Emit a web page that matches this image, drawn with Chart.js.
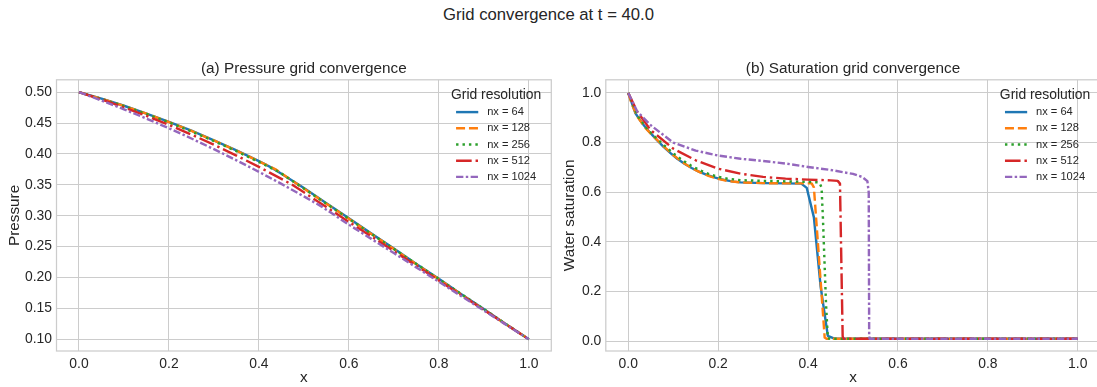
<!DOCTYPE html>
<html><head><meta charset="utf-8">
<script src="https://cdn.jsdelivr.net/npm/chart.js@4.4.1/dist/chart.umd.min.js"></script>
<style>
html,body{margin:0;padding:0;background:#fff;width:1097px;height:387px;overflow:hidden;}
#wrap{position:relative;width:1097px;height:387px;overflow:hidden;background:#fff;}
#sup{position:absolute;left:0;top:5px;width:1097px;text-align:center;font:16.7px 'Liberation Sans',Arial,sans-serif;color:#262626;line-height:20px;}
canvas{position:absolute;top:0;}
</style></head><body>
<div id="wrap">
<div id="sup">Grid convergence at t = 40.0</div>
<canvas id="c1" width="560" height="387" style="left:0px"></canvas>
<canvas id="c2" width="545" height="387" style="left:560px"></canvas>
</div>
<script>
// ---------- data ----------
const seriesLabels = ['nx = 64', 'nx = 128', 'nx = 256', 'nx = 512', 'nx = 1024'];
const legendTitle = 'Grid resolution';
const pressureTitle = '(a) Pressure grid convergence';
const saturationTitle = '(b) Saturation grid convergence';

const xTickValues = [0.0, 0.2, 0.4, 0.6, 0.8, 1.0];
const xTickLabels = ['0.0', '0.2', '0.4', '0.6', '0.8', '1.0'];
const pressureTickValues = [0.10, 0.15, 0.20, 0.25, 0.30, 0.35, 0.40, 0.45, 0.50];
const pressureTickLabels = ['0.10', '0.15', '0.20', '0.25', '0.30', '0.35', '0.40', '0.45', '0.50'];
const saturationTickValues = [0.0, 0.2, 0.4, 0.6, 0.8, 1.0];
const saturationTickLabels = ['0.0', '0.2', '0.4', '0.6', '0.8', '1.0'];

const pressureX64 = [0.00, 0.05, 0.10, 0.15, 0.20, 0.25, 0.30, 0.35, 0.40, 0.43, 0.45, 0.50,
                     0.55, 0.60, 0.65, 0.70, 0.75, 0.80, 0.85, 0.90, 0.95, 1.00];
const pressure64   = [0.500, 0.4895, 0.478, 0.4654, 0.452, 0.4376, 0.4221, 0.4058, 0.3885, 0.377, 0.368, 0.345,
                      0.320, 0.296, 0.271, 0.247, 0.222, 0.198, 0.173, 0.149, 0.124, 0.100];
const pressureX128 = [0.00, 0.05, 0.10, 0.15, 0.20, 0.25, 0.30, 0.35, 0.40, 0.437, 0.45, 0.50,
                      0.55, 0.60, 0.65, 0.70, 0.75, 0.80, 0.85, 0.90, 0.95, 1.00];
const pressure128  = [0.500, 0.4893, 0.4778, 0.4652, 0.4515, 0.4372, 0.4218, 0.4055, 0.388, 0.375, 0.3685, 0.3440,
                      0.3195, 0.295, 0.2705, 0.246, 0.2215, 0.197, 0.1725, 0.148, 0.124, 0.100];
const pressureX256 = [0.00, 0.05, 0.10, 0.15, 0.20, 0.25, 0.30, 0.35, 0.40, 0.445, 0.50,
                      0.55, 0.60, 0.65, 0.70, 0.75, 0.80, 0.85, 0.90, 0.95, 1.00];
const pressure256  = [0.500, 0.4891, 0.4774, 0.4647, 0.451, 0.4364, 0.4208, 0.4044, 0.387, 0.3706, 0.344,
                      0.3194, 0.295, 0.2706, 0.2462, 0.2219, 0.1975, 0.1731, 0.1488, 0.1244, 0.100];
const pressureX512 = [0.00, 0.05, 0.10, 0.15, 0.20, 0.25, 0.30, 0.35, 0.40, 0.45, 0.475, 0.50,
                      0.55, 0.60, 0.65, 0.70, 0.75, 0.80, 0.85, 0.90, 0.95, 1.00];
const pressure512  = [0.500, 0.4881, 0.4754, 0.4617, 0.447, 0.4314, 0.4148, 0.3974, 0.379, 0.3596, 0.3497, 0.3378,
                      0.314, 0.290, 0.2665, 0.2427, 0.219, 0.1951, 0.1713, 0.1476, 0.1238, 0.100];
const pressureX1024 = [0.00, 0.05, 0.10, 0.15, 0.20, 0.25, 0.30, 0.35, 0.40, 0.45, 0.50, 0.535,
                       0.55, 0.60, 0.65, 0.70, 0.75, 0.80, 0.85, 0.90, 0.95, 1.00];
const pressure1024 = [0.500, 0.4865, 0.4722, 0.4572, 0.4415, 0.425, 0.4077, 0.3897, 0.371, 0.3515, 0.3312, 0.3167,
                      0.3097, 0.2855, 0.2625, 0.2395, 0.2163, 0.1931, 0.1698, 0.1466, 0.1233, 0.100];

const satX64 = [0.0, 0.016, 0.031, 0.047, 0.063, 0.078, 0.094, 0.109, 0.125, 0.141, 0.156, 0.172, 0.188,
                0.203, 0.219, 0.234, 0.25, 0.30, 0.35, 0.385, 0.397, 0.413, 0.428, 0.444, 0.46, 1.0];
const sat64  = [1.0, 0.918, 0.878, 0.843, 0.812, 0.784, 0.758, 0.735, 0.715, 0.698, 0.684, 0.672, 0.662,
                0.654, 0.648, 0.643, 0.640, 0.637, 0.636, 0.635, 0.618, 0.499, 0.22, 0.022, 0.01, 0.01];
const satX128 = [0.0, 0.008, 0.02, 0.04, 0.06, 0.08, 0.10, 0.12, 0.14, 0.16, 0.18, 0.20, 0.22, 0.25,
                 0.30, 0.35, 0.40, 0.408, 0.413, 0.437, 0.441, 1.0];
const sat128 = [1.0, 0.955, 0.905, 0.855, 0.818, 0.783, 0.750, 0.722, 0.699, 0.680, 0.665, 0.654, 0.646, 0.640,
                0.637, 0.636, 0.636, 0.636, 0.62, 0.015, 0.01, 0.01];
const satX256 = [0.0, 0.02, 0.04, 0.06, 0.08, 0.10, 0.12, 0.14, 0.16, 0.18, 0.20, 0.22, 0.25, 0.30,
                 0.35, 0.40, 0.425, 0.43, 0.433, 0.44, 0.444, 0.45, 1.0];
const sat256 = [1.0, 0.91, 0.86, 0.822, 0.789, 0.757, 0.73, 0.707, 0.688, 0.673, 0.662, 0.655, 0.649, 0.646,
                0.644, 0.642, 0.640, 0.62, 0.5, 0.15, 0.012, 0.01, 0.01];
const satX512 = [0.0, 0.02, 0.05, 0.10, 0.15, 0.20, 0.25, 0.30, 0.35, 0.40, 0.45, 0.466, 0.471, 0.477, 0.479, 1.0];
const sat512 = [1.0, 0.925, 0.850, 0.776, 0.729, 0.695, 0.675, 0.662, 0.655, 0.651, 0.648, 0.646, 0.635, 0.02, 0.01, 0.01];
const satX1024 = [0.0, 0.02, 0.05, 0.10, 0.15, 0.20, 0.25, 0.30, 0.35, 0.40, 0.45, 0.50, 0.52, 0.532, 0.535, 0.536, 0.537, 1.0];
const sat1024 = [1.0, 0.925, 0.870, 0.800, 0.768, 0.748, 0.735, 0.726, 0.716, 0.702, 0.690, 0.674, 0.662, 0.645, 0.60, 0.02, 0.01, 0.01];

// ---------- styles ----------
const FONT = "'Liberation Sans', Arial, sans-serif";
const TEXT = '#262626';
const GRID = '#cccccc';
const colors = ['#1f77b4', '#ff7f0e', '#2ca02c', '#d62728', '#9467bd'];
const LW = 2.43;
const dashes = [[], [9.0, 3.9], [2.43, 4.0], [15.6, 3.9, 2.43, 3.9], [7.3, 2.43, 2.43, 2.43]];

function pts(xs, ys) { return xs.map((x, i) => ({x: x, y: ys[i]})); }
function makeDatasets(list) {
  return list.map((d, i) => ({
    label: seriesLabels[i], data: d, borderColor: colors[i], backgroundColor: colors[i],
    borderWidth: LW, borderDash: dashes[i], pointRadius: 0, tension: 0, fill: false,
    borderCapStyle: 'butt', borderJoinStyle: 'round', order: list.length - i
  }));
}

const framePlugin = {
  id: 'frame',
  afterDatasetsDraw(chart) {
    const {ctx, chartArea: a} = chart;
    ctx.save();
    ctx.strokeStyle = GRID; ctx.lineWidth = 1.25; ctx.setLineDash([]);
    ctx.strokeRect(a.left, a.top, a.right - a.left, a.bottom - a.top);
    ctx.restore();
  }
};
const legendPlugin = {
  id: 'mplLegend',
  afterDraw(chart) {
    const {ctx, chartArea: a} = chart;
    ctx.save();
    ctx.font = '13.9px ' + FONT;
    const tw = ctx.measureText(legendTitle).width;
    const cx = a.right - 10 - tw / 2;
    ctx.fillStyle = TEXT; ctx.textAlign = 'center'; ctx.textBaseline = 'middle';
    ctx.fillText(legendTitle, cx, a.top + 15.5);
    ctx.font = '11.1px ' + FONT;
    let maxW = 0;
    chart.data.datasets.forEach(ds => { maxW = Math.max(maxW, ctx.measureText(ds.label).width); });
    const hl = 22.2, pad = 8.9;
    const left = cx - (hl + pad + maxW) / 2;
    chart.data.datasets.forEach((ds, i) => {
      const y = a.top + 32.3 + 16.2 * i;
      ctx.strokeStyle = ds.borderColor; ctx.lineWidth = ds.borderWidth; ctx.lineCap = 'butt';
      ctx.setLineDash(ds.borderDash || []);
      ctx.beginPath(); ctx.moveTo(left, y); ctx.lineTo(left + hl, y); ctx.stroke();
      ctx.setLineDash([]);
      ctx.textAlign = 'left'; ctx.fillStyle = TEXT;
      ctx.fillText(ds.label, left + hl + pad, y);
    });
    ctx.restore();
  }
};

function makeChart(id, datasets, title, yTitle, yVals, yLabels, ymin, ymax, yAxisW, yTitlePad, padRight) {
  return new Chart(document.getElementById(id), {
    type: 'line',
    data: {datasets: datasets},
    options: {
      responsive: false, animation: false, events: [],
      layout: {padding: {top: 59.6, right: padRight, left: 0, bottom: 0}},
      plugins: {
        legend: {display: false}, tooltip: {enabled: false},
        title: {display: true, fullSize: false, text: title, color: TEXT,
                font: {family: FONT, size: 15.3, weight: 'normal'},
                padding: {top: 0, bottom: 1.84}}
      },
      scales: {
        x: {
          type: 'linear', min: -0.05, max: 1.05,
          afterBuildTicks: s => { s.ticks = xTickValues.map(v => ({value: v})); },
          afterFit: s => { s.height = 36; s.paddingLeft = 0; s.paddingRight = 0; },
          ticks: {callback: (v, i) => xTickLabels[i], color: TEXT, font: {family: FONT, size: 13.9},
                  padding: 5, maxRotation: 0, autoSkip: false},
          grid: {color: GRID, lineWidth: 1, drawTicks: false, tickLength: 0},
          border: {display: false},
          title: {display: true, text: 'x', color: TEXT, font: {family: FONT, size: 15.3}, padding: {top: 0, bottom: 0}}
        },
        y: {
          type: 'linear', min: ymin, max: ymax,
          afterBuildTicks: s => { s.ticks = yVals.map(v => ({value: v})); },
          afterFit: s => { s.width = yAxisW; s.paddingTop = 0; s.paddingBottom = 0; },
          ticks: {callback: (v, i) => yLabels[i], color: TEXT, font: {family: FONT, size: 13.9},
                  padding: 4.5, autoSkip: false},
          grid: {color: GRID, lineWidth: 1, drawTicks: false, tickLength: 0},
          border: {display: false},
          title: {display: true, text: yTitle, color: TEXT, font: {family: FONT, size: 15.3},
                  padding: {top: yTitlePad, bottom: 0}}
        }
      }
    },
    plugins: [framePlugin, legendPlugin]
  });
}

makeChart('c1', makeDatasets([
  pts(pressureX64, pressure64), pts(pressureX128, pressure128), pts(pressureX256, pressure256),
  pts(pressureX512, pressure512), pts(pressureX1024, pressure1024)
]), pressureTitle, 'Pressure', pressureTickValues, pressureTickLabels, 0.081, 0.52, 56.5, 5.8, 8.7);

makeChart('c2', makeDatasets([
  pts(satX64, sat64), pts(satX128, sat128), pts(satX256, sat256),
  pts(satX512, sat512), pts(satX1024, sat1024)
]), saturationTitle, 'Water saturation', saturationTickValues, saturationTickLabels, -0.039, 1.053, 45.8, 0.8, 4.8);
</script>
</body></html>
